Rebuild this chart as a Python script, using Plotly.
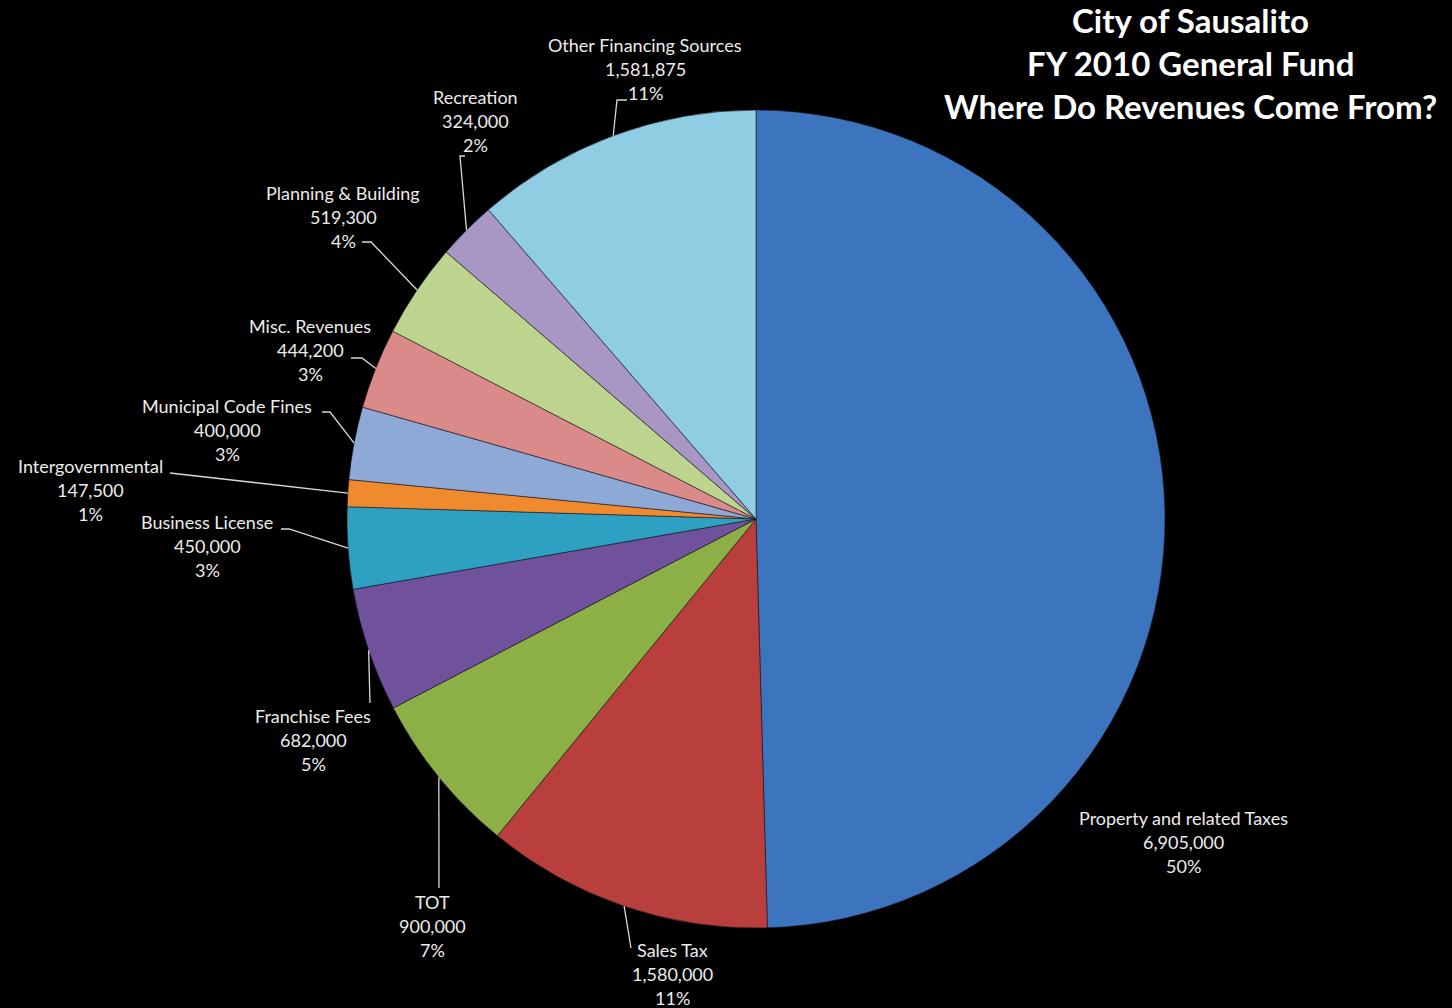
import numpy as np
import plotly.graph_objects as go

# ---- data ----
categories = ["Property and related Taxes", "Sales Tax", "TOT", "Franchise Fees",
              "Business License", "Intergovernmental", "Municipal Code Fines",
              "Misc. Revenues", "Planning & Building", "Recreation",
              "Other Financing Sources"]
values = [6905000, 1580000, 900000, 682000, 450000, 147500, 400000,
          444200, 519300, 324000, 1581875]
pct_labels = ["50%", "11%", "7%", "5%", "3%", "1%", "3%", "3%", "4%", "2%", "11%"]

colors = ["#3C75BD", "#B83F3B", "#8CAF46", "#6F529B", "#2EA1C2", "#F08A2E",
          "#8EA9D6", "#DA8B89", "#BDD48F", "#A897C4", "#8ECDE2"]

W, H = 1452, 1008
CX, CY, R = 756, 519, 409

# label layout (pixel positions of text centre, first line) and leader paths
label_pos = [(1183, 818), (672, 950), (432, 902), (313, 716), (207, 522),
             (90, 466), (227, 406), (310, 326), (343, 193), (475, 97), (645, 45)]
# leader waypoints after the slice-edge point (None = no leader)
leader_pts = [None,
              [(631, 948)],
              [(439, 888)],
              [(370, 703)],
              [(289, 529), (281, 529)],
              [(170, 473)],
              [(330, 412), (322, 412)],
              [(362, 358), (351, 358)],
              [(371, 242), (362, 242)],
              [(460, 156), (465, 156)],
              [(617, 100), (627, 100)]]

def px(x):
    return x / W

def py(y):
    return 1 - y / H

fig = go.Figure(go.Pie(
    labels=categories, values=values, sort=False, direction="clockwise",
    rotation=0, textinfo="none", hoverinfo="label+value+percent",
    marker=dict(colors=colors, line=dict(color="rgba(20,20,30,0.55)", width=1)),
    domain=dict(x=[(CX - R) / W, (CX + R) / W], y=[(H - CY - R) / H, (H - CY + R) / H]),
    showlegend=False,
))

vals = np.array(values, dtype=float)
frac = vals / vals.sum()
cum = np.concatenate([[0], np.cumsum(frac)[:-1]])
mid = cum + frac / 2
theta = np.deg2rad(90 - 360 * mid)

annotations = []
shapes = []
font_lbl = dict(family="Lato, 'Open Sans', sans-serif", size=18, color="#ECECEC")
for i, name in enumerate(categories):
    tx, ty = label_pos[i]
    lines = [name, f"{values[i]:,}", pct_labels[i]]
    for k, ln in enumerate(lines):
        annotations.append(dict(
            x=px(tx), y=py(ty + 24 * k), xref="paper", yref="paper",
            text=ln, showarrow=False, font=font_lbl,
            xanchor="center", yanchor="middle"))
    if leader_pts[i] is not None:
        ex = CX + R * np.cos(theta[i])
        ey = CY - R * np.sin(theta[i])
        pts = [(ex, ey)] + leader_pts[i]
        path = "M " + " L ".join(f"{px(a):.5f},{py(b):.5f}" for a, b in pts)
        shapes.append(dict(type="path", path=path, xref="paper", yref="paper",
                           line=dict(color="#D8D8D8", width=1.3)))

title_lines = ["City of Sausalito", "FY 2010 General Fund", "Where Do Revenues Come From?"]
for k, t in enumerate(title_lines):
    annotations.append(dict(
        x=px(1190), y=py(20 + 43 * k), xref="paper", yref="paper",
        text=f"<b>{t}</b>", showarrow=False,
        font=dict(family="Lato, 'Open Sans', sans-serif", size=33, color="#FFFFFF"),
        xanchor="center", yanchor="middle"))

fig.update_layout(
    width=W, height=H,
    margin=dict(l=0, r=0, t=0, b=0),
    paper_bgcolor="#000000", plot_bgcolor="#000000",
    annotations=annotations, shapes=shapes,
)

fig.write_html("out.html")
